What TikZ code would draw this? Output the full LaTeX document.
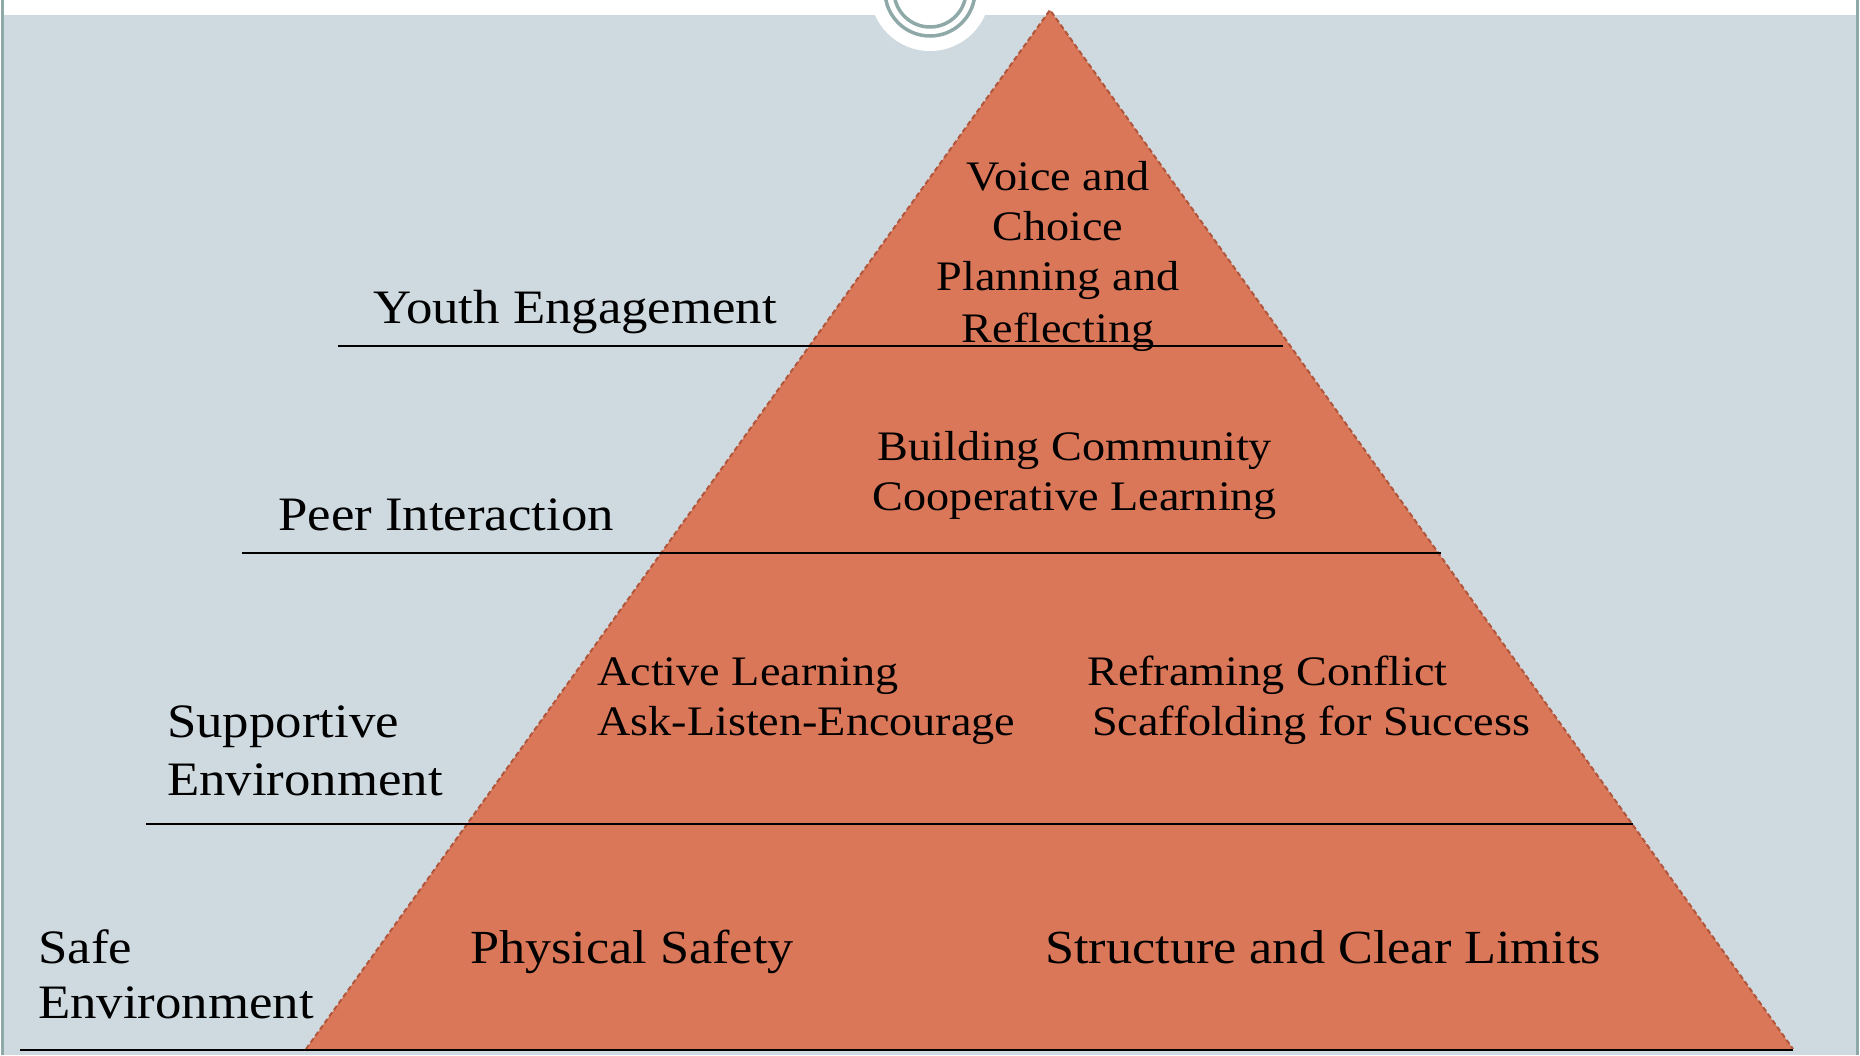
\documentclass[tikz,border=0pt]{standalone}
\usepackage{fontspec}
\setmainfont[FakeStretch=1.1]{Liberation Serif}
\definecolor{bggray}{HTML}{CFDAE0}
\definecolor{ringc}{HTML}{8FA9A9}
\definecolor{pyr}{HTML}{DA7759}
\definecolor{pyredge}{HTML}{B0563C}
\tikzset{
  lbl/.style={anchor=base west, inner sep=0pt, font=\fontsize{48}{58}\selectfont},
  body/.style={anchor=base west, inner sep=0pt, font=\fontsize{42}{50}\selectfont},
  bodyc/.style={anchor=base, inner sep=0pt, font=\fontsize{42}{50}\selectfont},
  big/.style={anchor=base west, inner sep=0pt, font=\fontsize{47.5}{58}\selectfont},
  tier/.style={line width=2pt, black},
}
\begin{document}
\begin{tikzpicture}[x=1pt,y=-1pt]
\useasboundingbox (0,0) rectangle (1860,1055);
\fill[white] (0,0) rectangle (1860,1055);
\fill[bggray] (3,15) rectangle (1856,1055);
\draw[ringc, line width=3pt] (2,0) -- (2,1055);
\draw[ringc, line width=3pt] (1857,0) -- (1857,1055);
% ornament
\fill[white] (930,-9) circle (60);
\draw[ringc, line width=3.5pt] (930,-9) circle (45);
\draw[ringc, line width=3.5pt] (930,-9) circle (36);
% pyramid
\coordinate (apex) at (1050,10);
\coordinate (bl) at (306,1049);
\coordinate (br) at (1793,1049);
\fill[pyr] (apex) -- (br) -- (bl) -- cycle;
\draw[pyredge, line width=2pt, dash pattern=on 5pt off 3pt] (bl) -- (apex) -- (br);
% tier lines
\coordinate (l1a) at (338,346); \coordinate (l1b) at (1283,346);
\coordinate (l2a) at (242,553); \coordinate (l2b) at (1441,553);
\coordinate (l3a) at (146,824); \coordinate (l3b) at (1633,824);
\coordinate (l4a) at (20,1050); \coordinate (l4b) at (1793,1050);
\draw[tier] (l1a) -- (l1b);
\draw[tier] (l2a) -- (l2b);
\draw[tier] (l3a) -- (l3b);
\draw[tier] (l4a) -- (l4b);
% left labels
\node[lbl] (ye) at (373,323) {Youth Engagement};
\node[lbl] (pi) at (278,530) {Peer Interaction};
\node[lbl] (se1) at (167,737) {Supportive};
\node[lbl] (se2) at (167,795) {Environment};
\node[lbl] (sa1) at (38,963) {Safe};
\node[lbl] (sa2) at (38,1018) {Environment};
% top tier
\node[bodyc] (t1) at (1058,190) {Voice and};
\node[bodyc] (t2) at (1058,240) {Choice};
\node[bodyc] (t3) at (1058,290) {Planning and};
\node[bodyc] (t4) at (1058,342) {Reflecting};
% second tier
\node[bodyc] (b1) at (1075,460) {Building Community};
\node[bodyc] (b2) at (1075,510) {Cooperative Learning};
% third tier
\node[body] (a1) at (597,685) {Active Learning};
\node[body] (a2) at (597,735) {Ask-Listen-Encourage};
\node[body] (r1) at (1087,685) {Reframing Conflict};
\node[body] (r2) at (1092,735) {Scaffolding for Success};
% bottom tier
\node[big] (ps) at (470,963) {Physical Safety};
\node[big] (sc) at (1045,963) {Structure and Clear Limits};
\end{tikzpicture}
\end{document}
